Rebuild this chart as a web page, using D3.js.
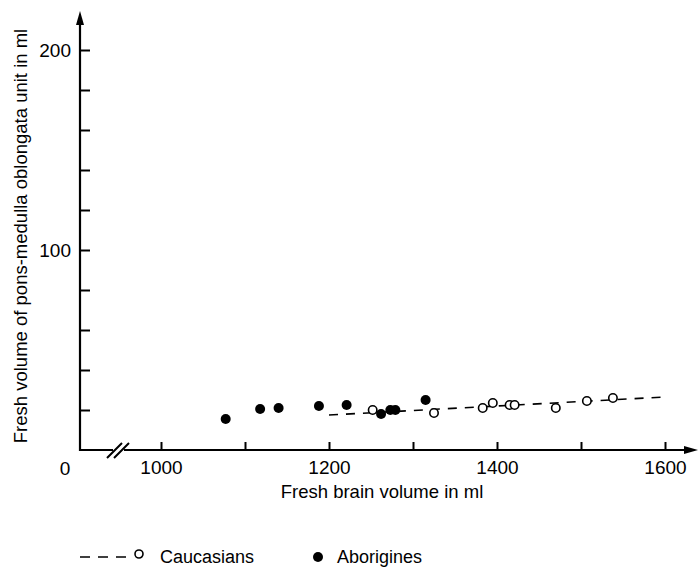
<!DOCTYPE html>
<html>
<head>
<meta charset="utf-8">
<script src="https://cdn.jsdelivr.net/npm/d3@7"></script>
<style>
  body { margin: 0; background: #fff; }
  svg { display: block; font-family: 'Liberation Sans', Arial, sans-serif; }
</style>
</head>
<body>
<div id="chart"></div>
<script>
// values
const aboriginesBrain = [1077, 1118, 1140, 1188, 1221, 1262, 1273, 1279, 1315];
const aboriginesPons = [15.5, 20.5, 21, 22, 22.5, 18, 20, 20, 25];
const caucasiansBrain = [1252, 1325, 1383, 1395, 1415, 1421, 1470, 1507, 1538];
const caucasiansPons = [20, 18.5, 21, 23.5, 22.5, 22.5, 21, 24.5, 26];
const trendBrain = [1200, 1600];
const trendPons = [17.5, 26.5];
const xTicks = [1000, 1100, 1200, 1300, 1400, 1500, 1600];
const xTickLabels = [1000, 1200, 1400, 1600];
const yTicks = [20, 40, 60, 80, 100, 120, 140, 160, 180, 200];
const yTickLabels = [100, 200];

const width = 698;
const height = 567;
const origin = { x: 80, y: 450 };

const svg = d3.select('#chart')
  .append('svg')
    .attr('width', width)
    .attr('height', height);

const x = d3.scaleLinear().domain([1000, 1600]).range([161, 665]);
const y = d3.scaleLinear().domain([0, 200]).range([origin.y, 50]);

// x axis (ticks point up, into the plot)
const axisX = d3.axisBottom(x)
  .tickValues(xTicks)
  .tickSize(-8)
  .tickPadding(11)
  .tickFormat(d => (xTickLabels.includes(d) ? d : ''));

const gx = svg.append('g')
  .attr('transform', `translate(0, ${origin.y})`)
  .call(axisX);
gx.select('.domain').remove();
gx.selectAll('.tick line').attr('stroke', '#000').attr('stroke-width', 2);
gx.selectAll('.tick text').attr('fill', '#000').style('font-size', '19px');

// y axis (ticks point right)
const axisY = d3.axisLeft(y)
  .tickValues(yTicks)
  .tickSize(-10)
  .tickPadding(9)
  .tickFormat(d => (yTickLabels.includes(d) ? d : ''));

const gy = svg.append('g')
  .attr('transform', `translate(${origin.x}, 0)`)
  .call(axisY);
gy.select('.domain').remove();
gy.selectAll('.tick line').attr('stroke', '#000').attr('stroke-width', 2);
gy.selectAll('.tick text').attr('fill', '#000').style('font-size', '19px');

// axis lines with the break near the origin
const axes = svg.append('g')
  .attr('stroke', '#000')
  .attr('stroke-width', 2.2)
  .attr('fill', 'none');

axes.append('path')
  .attr('d', `M${origin.x},20 V${origin.y} H113`);
axes.append('path')
  .attr('d', `M124,${origin.y} H688`);
axes.append('path')
  .attr('stroke-width', 2)
  .attr('d', `M107,458 L122,443 M114,458 L129,443`);

// arrow heads
svg.append('path')
  .attr('fill', '#000')
  .attr('d', `M${origin.x},11 L${origin.x - 4},25 L${origin.x + 4},25 Z`);
svg.append('path')
  .attr('fill', '#000')
  .attr('d', `M698,${origin.y} L684,${origin.y - 4} L684,${origin.y + 4} Z`);

// "0" at the origin
svg.append('text')
  .attr('x', 65)
  .attr('y', 475)
  .attr('text-anchor', 'middle')
  .style('font-size', '19px')
  .text('0');

// axis titles
svg.append('text')
  .attr('x', 382)
  .attr('y', 498)
  .attr('text-anchor', 'middle')
  .style('font-size', '18.5px')
  .text('Fresh brain volume in ml');

svg.append('text')
  .attr('transform', 'translate(27, 236) rotate(-90)')
  .attr('text-anchor', 'middle')
  .style('font-size', '18.5px')
  .text('Fresh volume of pons-medulla oblongata unit in ml');

// dashed trend line for the Caucasians
const line = d3.line()
  .x(d => x(d[0]))
  .y(d => y(d[1]));

svg.append('path')
  .datum(d3.zip(trendBrain, trendPons))
  .attr('fill', 'none')
  .attr('stroke', '#000')
  .attr('stroke-width', 1.6)
  .attr('stroke-dasharray', '9,8')
  .attr('d', line);

// points
svg.append('g')
  .selectAll('circle')
  .data(d3.zip(caucasiansBrain, caucasiansPons))
  .enter()
  .append('circle')
    .attr('cx', d => x(d[0]))
    .attr('cy', d => y(d[1]))
    .attr('r', 4.2)
    .attr('fill', '#fff')
    .attr('stroke', '#000')
    .attr('stroke-width', 1.6);

svg.append('g')
  .selectAll('circle')
  .data(d3.zip(aboriginesBrain, aboriginesPons))
  .enter()
  .append('circle')
    .attr('cx', d => x(d[0]))
    .attr('cy', d => y(d[1]))
    .attr('r', 5)
    .attr('fill', '#000');

// legend
const legend = svg.append('g')
  .attr('transform', 'translate(0, 557)');

legend.append('line')
  .attr('x1', 80)
  .attr('x2', 134)
  .attr('stroke', '#000')
  .attr('stroke-width', 1.6)
  .attr('stroke-dasharray', '10,8');
legend.append('circle')
  .attr('cx', 139)
  .attr('cy', -3)
  .attr('r', 4)
  .attr('fill', '#fff')
  .attr('stroke', '#000')
  .attr('stroke-width', 1.6);
legend.append('text')
  .attr('x', 160)
  .attr('y', 6)
  .style('font-size', '18px')
  .text('Caucasians');

legend.append('circle')
  .attr('cx', 318)
  .attr('cy', 0)
  .attr('r', 5)
  .attr('fill', '#000');
legend.append('text')
  .attr('x', 337)
  .attr('y', 6)
  .style('font-size', '18px')
  .text('Aborigines');
</script>
</body>
</html>
